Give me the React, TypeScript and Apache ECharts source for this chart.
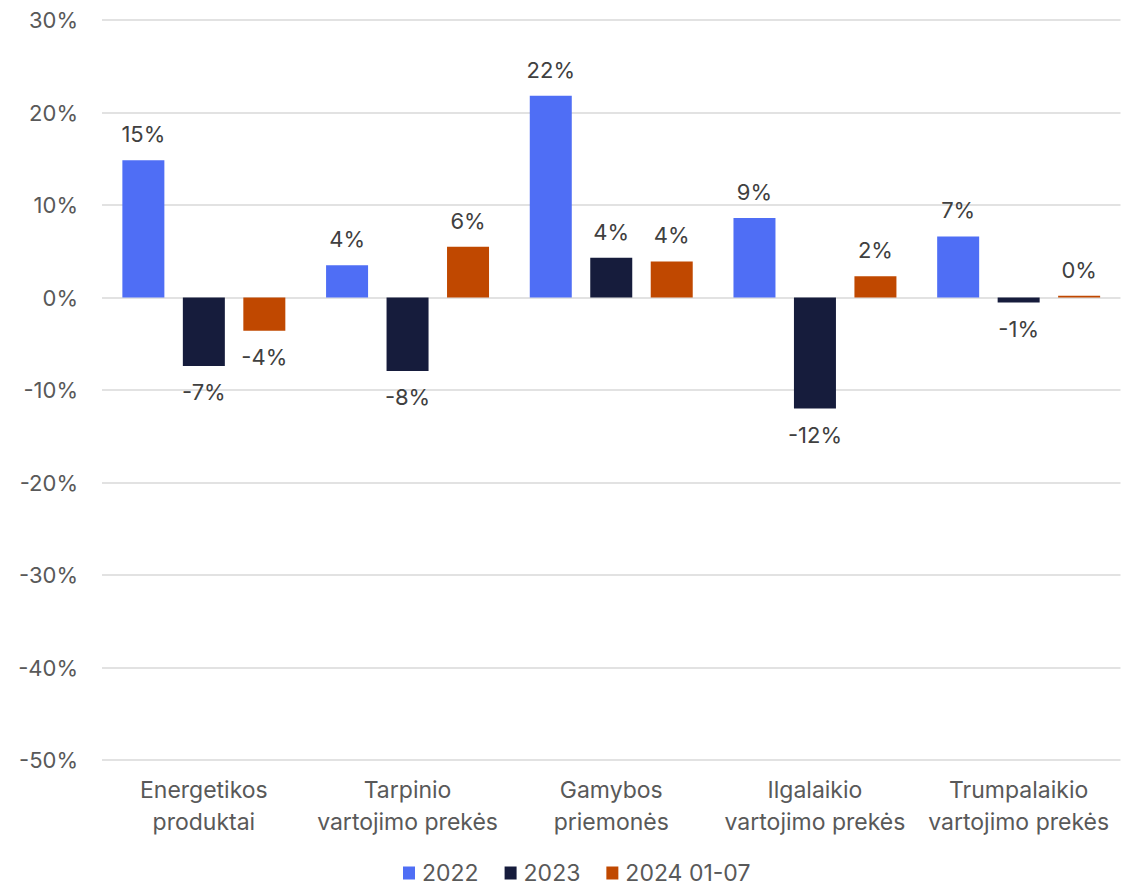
import React, { useEffect, useRef } from "react";
import * as echarts from "echarts";

const categories = [
  "Energetikos\nproduktai",
  "Tarpinio\nvartojimo prekės",
  "Gamybos\npriemonės",
  "Ilgalaikio\nvartojimo prekės",
  "Trumpalaikio\nvartojimo prekės",
];
const seriesNames = ["2022", "2023", "2024 01-07"];
const values2022 = [14.85, 3.5, 21.8, 8.6, 6.6];
const values2023 = [-7.4, -7.95, 4.3, -12.0, -0.55];
const values2024 = [-3.6, 5.5, 3.9, 2.3, 0.2];
const colors = ["#4F6EF5", "#161C3C", "#C04800"];
const yTicks = { min: -50, max: 30, interval: 10 };

function makeSeries(name: string, vals: number[], color: string) {
  return {
    name,
    type: "bar",
    barWidth: 42,
    barGap: "44%",
    itemStyle: { color },
    data: vals.map((v) => ({
      value: v,
      label: {
        show: true,
        position: v < 0 ? "bottom" : "top",
        distance: 15,
        formatter: () => `${Math.round(v) === 0 ? 0 : Math.round(v)}%`,
        color: "#404040",
        fontSize: 22,
        fontFamily: "Inter",
      },
    })),
  };
}

export default function App() {
  const ref = useRef<HTMLDivElement>(null);
  useEffect(() => {
    document.body.style.margin = "0";
    const chart = echarts.init(ref.current!, undefined, { renderer: "svg" });
    chart.setOption({
      animation: false,
      textStyle: { fontFamily: "Inter" },
      grid: { left: 102, right: 12.5, top: 20, bottom: 127 },
      legend: {
        left: 403,
        top: 861,
        padding: 0,
        itemWidth: 12,
        itemHeight: 13,
        itemGap: 26,
        icon: "rect",
        textStyle: {
          fontSize: 23,
          lineHeight: 24,
          color: "#595959",
          fontFamily: "Inter",
          padding: [0, 0, 0, 2],
        },
        data: seriesNames,
      },
      xAxis: {
        type: "category",
        data: categories,
        axisLine: { show: false },
        axisTick: { show: false },
        axisLabel: {
          fontSize: 23,
          color: "#595959",
          lineHeight: 32,
          margin: 14,
          fontFamily: "Inter",
          interval: 0,
        },
      },
      yAxis: {
        type: "value",
        min: yTicks.min,
        max: yTicks.max,
        interval: yTicks.interval,
        axisLine: { show: false },
        axisTick: { show: false },
        splitLine: { lineStyle: { color: "#D9D9D9", width: 1.5 } },
        axisLabel: {
          formatter: (v: number) => `${v}%`,
          fontSize: 22,
          color: "#595959",
          margin: 24,
          fontFamily: "Inter",
        },
      },
      series: [
        makeSeries(seriesNames[0], values2022, colors[0]),
        makeSeries(seriesNames[1], values2023, colors[1]),
        makeSeries(seriesNames[2], values2024, colors[2]),
      ],
    });
    return () => chart.dispose();
  }, []);
  return <div ref={ref} style={{ width: 1133, height: 887 }} />;
}
